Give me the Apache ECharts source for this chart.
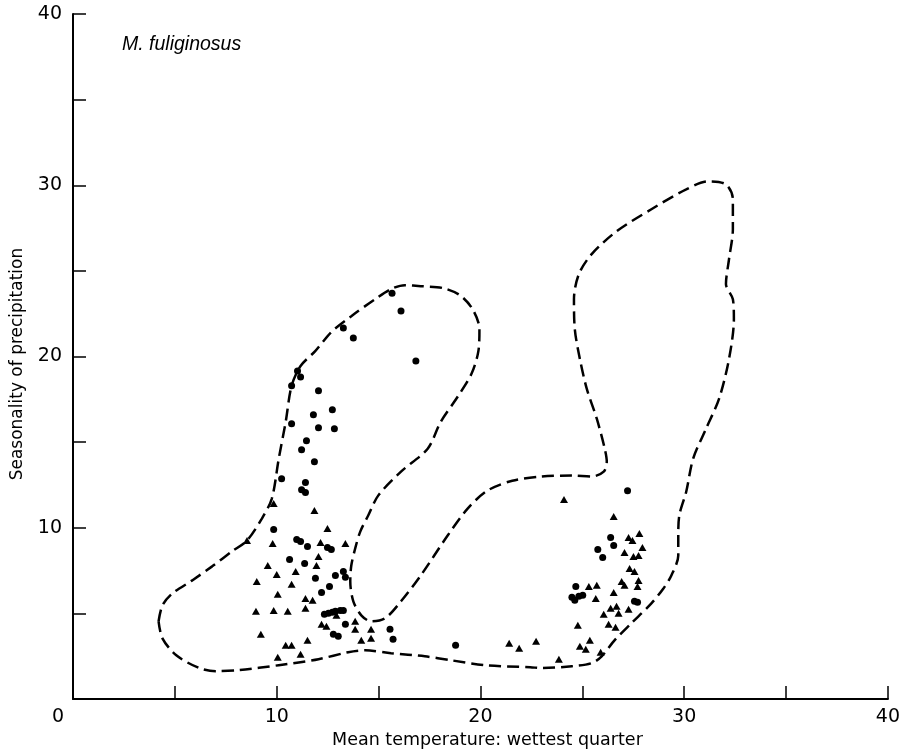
<!DOCTYPE html>
<html><head><meta charset="utf-8">
<script src="https://cdn.jsdelivr.net/npm/echarts@6/dist/echarts.min.js"></script>
<style>html,body{margin:0;padding:0;background:#fff}#c{width:903px;height:754px}</style>
</head><body><div id="c"></div>
<script>
const titleText = 'M. fuliginosus';
const xName = 'Mean temperature: wettest quarter';
const yName = 'Seasonality of precipitation';
const xTickLabels = [0, 10, 20, 30, 40];
const yTickLabels = [10, 20, 30, 40];

const dots = [
  [15.66,23.70],[16.10,22.66],[13.27,21.67],[13.76,21.08],[16.83,19.74],[11.02,19.16],[11.17,18.81],
  [10.73,18.29],[12.05,18.00],[11.80,16.60],[12.73,16.89],[10.73,16.07],[12.05,15.84],[12.83,15.78],
  [11.46,15.08],[11.22,14.56],[11.85,13.86],[10.24,12.87],[11.41,12.64],[11.22,12.23],[11.41,12.06],
  [9.85,9.90],[10.98,9.32],[11.17,9.20],[11.51,8.91],[12.49,8.85],[12.68,8.74],[10.63,8.15],
  [11.37,7.92],[13.27,7.45],[12.88,7.22],[11.90,7.05],[13.37,7.11],[12.59,6.58],[12.20,6.23],
  [12.34,4.95],[12.54,5.01],[12.73,5.07],[12.88,5.13],[13.12,5.18],[13.27,5.18],[13.37,4.37],
  [15.56,4.08],[12.78,3.79],[13.02,3.67],[15.71,3.49],[18.78,3.15],
  [27.22,12.17],[26.39,9.44],[26.54,8.97],[25.76,8.74],[26.00,8.27],[24.68,6.58],[24.49,5.94],
  [24.63,5.77],[24.83,6.00],[25.02,6.06],[27.56,5.71],[27.71,5.65]
];

const triangles = [
  [9.85,11.42],[11.85,11.01],[12.49,9.96],[8.54,9.26],[9.80,9.09],[12.15,9.14],[13.37,9.09],
  [12.05,8.33],[11.95,7.80],[9.56,7.80],[10.00,7.28],[10.93,7.45],[9.02,6.87],[10.73,6.70],
  [10.05,6.12],[11.41,5.88],[11.76,5.77],[11.41,5.30],[8.98,5.13],[9.85,5.18],[10.54,5.13],
  [12.93,4.89],[12.20,4.37],[12.44,4.25],[13.85,4.54],[13.85,4.08],[14.63,4.08],[9.22,3.79],
  [11.51,3.44],[14.63,3.55],[14.15,3.44],[10.44,3.15],[10.73,3.15],[10.05,2.45],[11.17,2.62],
  [21.41,3.26],[21.90,2.97],[22.73,3.38],[23.85,2.33],
  [24.10,11.65],[26.54,10.66],[27.80,9.67],[27.27,9.44],[27.46,9.26],[27.95,8.85],[27.07,8.56],
  [27.51,8.33],[27.76,8.39],[27.32,7.63],[27.56,7.45],[26.93,6.87],[27.07,6.64],[27.76,6.93],
  [27.71,6.58],[25.32,6.58],[25.71,6.64],[25.66,5.88],[26.54,6.23],[26.39,5.30],[26.68,5.42],
  [27.27,5.24],[26.05,4.95],[26.78,5.01],[24.78,4.31],[26.29,4.37],[26.63,4.19],[25.37,3.44],
  [24.88,3.09],[25.17,2.91],[25.90,2.74]
];

const envelope = [
  [4.20,4.54],[4.39,5.47],[4.88,6.17],[5.85,6.93],[6.83,7.75],[7.80,8.62],[8.54,9.26],[9.27,10.54],
  [9.76,11.71],[10.10,14.04],[10.44,16.19],[10.73,18.29],[11.17,19.45],[11.90,20.33],[12.68,21.43],
  [13.66,22.36],[14.83,23.35],[15.61,23.94],[16.29,24.17],[17.07,24.11],[18.15,24.00],[18.98,23.59],
  [19.61,22.77],[19.95,21.61],[19.90,20.33],[19.56,18.99],[18.88,17.65],[18.05,16.19],[17.41,14.62],
  [16.10,13.28],[14.98,11.88],[14.49,10.72],[14.10,9.78],[13.85,8.79],[13.66,7.80],[13.61,6.87],
  [13.76,5.71],[14.15,4.89],[14.63,4.54],[15.32,4.72],[16.10,5.71],[17.07,7.22],[18.39,9.55],
  [19.37,11.12],[20.34,12.17],[21.56,12.75],[22.93,12.99],[24.49,13.05],[25.46,12.99],[26.05,13.28],
  [26.20,13.86],[26.10,14.62],[25.71,16.37],[25.22,18.11],[24.88,19.86],[24.63,21.61],[24.59,23.35],
  [24.83,24.81],[25.46,25.98],[26.68,27.31],[28.39,28.60],[30.10,29.76],[31.17,30.23],[32.05,30.05],
  [32.39,29.18],[32.39,27.43],[32.20,25.68],[32.05,24.23],[32.39,23.35],[32.44,22.19],[32.20,19.86],
  [31.71,17.53],[31.07,15.78],[30.44,14.04],[30.10,12.11],[29.76,10.72],[29.71,9.55],[29.71,8.39],
  [29.37,7.22],[28.98,6.46],[28.39,5.59],[27.41,4.43],[26.59,3.44],[25.95,2.50],[25.46,2.10],
  [24.49,1.92],[23.02,1.81],[22.44,1.86],[20.20,1.98],[18.54,2.27],[17.27,2.50],[15.61,2.68],
  [14.34,2.85],[13.51,2.74],[12.05,2.33],[10.10,1.98],[8.15,1.69],[7.02,1.63],[6.20,1.81],
  [5.07,2.56],[4.39,3.55],[4.20,4.54]
];

const FONT = 'DejaVu Sans';
const chart = echarts.init(document.getElementById('c'), null, {renderer: 'canvas'});
chart.setOption({
  backgroundColor: '#fff',
  animation: false,
  title: {
    text: titleText, left: 117, top: 30,
    textStyle: {fontStyle: 'italic', fontWeight: 'normal', fontSize: 19.5, color: '#000', fontFamily: 'Liberation Sans'}
  },
  grid: {left: 73, right: 10, top: 14, bottom: 53},
  xAxis: {
    type: 'value', min: 0, max: 40, interval: 5,
    axisLine: {lineStyle: {color: '#000', width: 2}},
    axisTick: {inside: true, length: 13, lineStyle: {color: '#000', width: 1.5}},
    splitLine: {show: false},
    axisLabel: {
      color: '#000', fontSize: 19, fontFamily: FONT, margin: 8,
      formatter: v => xTickLabels.includes(v) ? (v === 0 ? '{z|0}' : String(v)) : '',
      rich: {z: {padding: [0, 30, 0, 0], fontSize: 19, color: '#000', fontFamily: FONT}}
    },
    name: xName, nameLocation: 'middle', nameGap: 31,
    nameTextStyle: {fontSize: 17.5, color: '#000', fontFamily: FONT, padding: [0, 0, 0, 14]}
  },
  yAxis: {
    type: 'value', min: 0, max: 40, interval: 5,
    axisLine: {lineStyle: {color: '#000', width: 2}},
    axisTick: {inside: true, length: 13, lineStyle: {color: '#000', width: 1.5}},
    splitLine: {show: false},
    axisLabel: {
      color: '#000', fontSize: 19, fontFamily: FONT, margin: 11, padding: [5, 0, 0, 0],
      formatter: v => yTickLabels.includes(v) ? String(v) : ''
    },
    name: yName, nameLocation: 'middle', nameGap: 47,
    nameTextStyle: {fontSize: 17, color: '#000', fontFamily: FONT, padding: [0, 15, 0, 0]}
  },
  series: [
    {
      type: 'line', data: envelope, showSymbol: false, smooth: 0.3, silent: true,
      lineStyle: {color: '#000', width: 2.5, type: [12, 6]}
    },
    {
      type: 'scatter', data: dots, symbol: 'circle', symbolSize: 7,
      itemStyle: {color: '#000', opacity: 1}
    },
    {
      type: 'scatter', data: triangles, symbol: 'triangle', symbolSize: [8, 7],
      itemStyle: {color: '#000', opacity: 1}
    }
  ]
});
</script>
</body></html>
